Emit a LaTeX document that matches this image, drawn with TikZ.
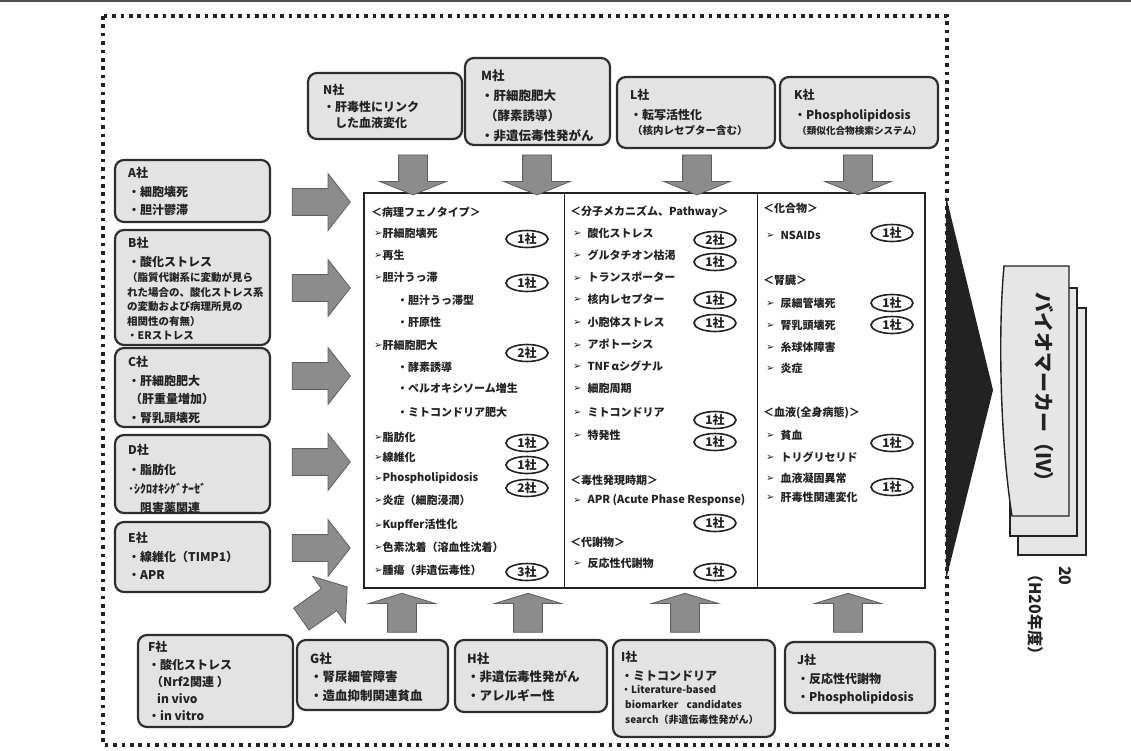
\documentclass[tikz,border=0pt]{standalone}
\usepackage{fontspec}
\setmainfont{Noto Sans CJK JP}
\newfontfamily\symf{DejaVu Sans}
\usetikzlibrary{shapes.arrows,shapes.geometric}
\definecolor{ink}{HTML}{222222}
\definecolor{boxline}{HTML}{2C302C}
\definecolor{boxfill}{HTML}{E3E3E3}
\definecolor{arrowfill}{HTML}{8C8C8C}
\definecolor{arrowline}{HTML}{5E5E5E}
\definecolor{sheetfill}{HTML}{E6E6E6}
\newcommand\bltm{{\symf\fontsize{10}{10}\selectfont\raisebox{0.3pt}{➢}}}
\begin{document}
\begin{tikzpicture}[x=1pt,y=-1pt,
  every node/.style={text=ink},
  cbox/.style={draw=boxline, line width=2.2pt, fill=boxfill, rounded corners=9pt, inner sep=0pt},
  btxt/.style={anchor=north west, align=left, inner sep=0pt, font=\fontsize{12}{18.5}\selectfont\bfseries},
  stxt/.style={anchor=north west, align=left, inner sep=0pt, font=\fontsize{10}{15}\selectfont\bfseries},
  item/.style={anchor=west, inner sep=0pt, font=\fontsize{11}{13}\selectfont\bfseries},
  badge/.style={ellipse, draw=ink, line width=1.6pt, fill=white, minimum width=42pt, minimum height=17pt, inner sep=0pt, font=\fontsize{12}{12}\selectfont\bfseries},
  blockarrow/.style={single arrow, draw=arrowline, fill=arrowfill, line width=0.8pt, inner sep=0pt},
  varrow/.style={blockarrow, single arrow head extend=19pt, minimum height=40pt, single arrow tip angle=136},
  harrow/.style={blockarrow, single arrow head extend=15pt, minimum height=58pt, single arrow tip angle=104},
  dotline/.style={draw=ink, line width=3.6pt, dash pattern=on 3.6pt off 4.8pt},
  sheet/.style={draw=ink, line width=1.4pt, fill=sheetfill}
]
\useasboundingbox (0,0) rectangle (1131,751);
\fill[white] (0,0) rectangle (1131,751);
\fill[ink!80] (0,0) rectangle (1131,2.5);

% dotted frame around the survey summary
\draw[dotline] (103,16) rectangle (947,745);

% central table
\node[draw=ink, line width=1.5pt, fill=white, inner sep=0pt, minimum width=561pt, minimum height=395pt] (core) at (644.5,390.5) {};
\coordinate (d1t) at (564,193); \coordinate (d1b) at (564,588);
\coordinate (d2t) at (757,193); \coordinate (d2b) at (757,588);
\draw[ink, line width=1pt] (d1t) -- (d1b);
\draw[ink, line width=1pt] (d2t) -- (d2b);

% column 1: pathology phenotypes
\node[item] (h1) at (371,212) {＜病理フェノタイプ＞};
\foreach \yy/\tx [count=\i] in {
  233/{\bltm 肝細胞壊死}, 255/{\bltm 再生}, 277/{\bltm 胆汁うっ滞},
  345/{\bltm 肝細胞肥大}, 437/{\bltm 脂肪化}, 457/{\bltm 線維化},
  478/{\bltm Phospholipidosis}, 500/{\bltm 炎症（細胞浸潤）},
  525/{\bltm Kupffer活性化}, 547/{\bltm 色素沈着（溶血性沈着）},
  570/{\bltm 腫瘍（非遺伝毒性）}}
  \node[item] (c1-\i) at (374,\yy) {\tx};
\foreach \yy/\tx [count=\i] in {
  300/{・胆汁うっ滞型}, 322/{・肝原性}, 367/{・酵素誘導},
  388/{・ペルオキシソーム増生}, 412/{・ミトコンドリア肥大}}
  \node[item] (s1-\i) at (397,\yy) {\tx};

% column 2: molecular mechanisms
\node[item] (h2) at (570,212) {＜分子メカニズム、Pathway＞};
\foreach \yy/\tx [count=\i] in {
  233/{酸化ストレス}, 255/{グルタチオン枯渇}, 277/{トランスポーター},
  299/{核内レセプター}, 322/{小胞体ストレス}, 344/{アポトーシス},
  366/{TNF\,αシグナル}, 388/{細胞周期}, 412/{ミトコンドリア},
  435/{特発性}, 500/{APR (Acute Phase Response)}, 563/{反応性代謝物}}
  \node[item] (c2-\i) at (573,\yy) {\bltm\hspace{6pt}\tx};
\node[item] (h3) at (570,480) {＜毒性発現時期＞};
\node[item] (h4) at (570,542) {＜代謝物＞};

% column 3: compounds, kidney, blood
\node[item] (h5) at (763,208) {＜化合物＞};
\node[item] (h6) at (763,280) {＜腎臓＞};
\node[item] (h7) at (763,413) {＜血液(全身病態)＞};
\foreach \yy/\tx [count=\i] in {
  235/{NSAIDs}, 303/{尿細管壊死}, 325/{腎乳頭壊死}, 347/{糸球体障害},
  368/{炎症}, 435/{貧血}, 457/{トリグリセリド}, 478/{血液凝固異常},
  497/{肝毒性関連変化}}
  \node[item] (c3-\i) at (766,\yy) {\bltm\hspace{6pt}\tx};

% company counts
\foreach \xx/\yy/\tx [count=\i] in {
  527/239/1社, 527/283/1社, 527/353/2社, 527/443/1社, 527/465/1社,
  527/488/2社, 527/572/3社,
  715/240/2社, 715/262/1社, 715/300/1社, 715/323/1社, 715/420/1社,
  715/442/1社, 715/523/1社, 715/572/1社,
  892/233/1社, 892/303/1社, 892/325/1社, 892/443/1社, 892/487/1社}
  \node[badge] (b\i) at (\xx,\yy) {\tx};

% companies on the left
\node[cbox, minimum width=155pt, minimum height=62pt] (A) at (192.5,191) {};
\node[btxt] (At) at (128,167.5) {A社\\・細胞壊死\\・胆汁鬱滞};
\node[cbox, minimum width=155pt, minimum height=115pt] (B) at (192.5,287.5) {};
\node[btxt, font=\fontsize{12}{19}\selectfont\bfseries] (Bt) at (128,237.5) {B社\\・酸化ストレス};
\node[stxt, font=\fontsize{10.5}{14.5}\selectfont\bfseries] (Bs) at (127,272.5) {（脂質代謝系に変動が見ら\\れた場合の、酸化ストレス系\\の変動および病理所見の\\相関性の有無）\\・ERストレス};
\node[cbox, minimum width=155pt, minimum height=79pt] (C) at (192.5,387.5) {};
\node[btxt] (Ct) at (128,356.5) {C社\\・肝細胞肥大\\\hspace{2pt}（肝重量増加）\\・腎乳頭壊死};
\node[cbox, minimum width=155pt, minimum height=78pt] (D) at (192.5,474) {};
\node[btxt, font=\fontsize{12}{19.3}\selectfont\bfseries] (Dt) at (128,444.5) {D社\\・脂肪化\\･ｼｸﾛｵｷｼｹﾞﾅｰｾﾞ\\\hspace{12pt}阻害薬関連};
\node[cbox, minimum width=155pt, minimum height=70pt] (E) at (192.5,557) {};
\node[btxt] (Et) at (128,532.5) {E社\\・線維化（TIMP1）\\・APR};

% companies on top
\node[cbox, minimum width=154pt, minimum height=66pt] (N) at (385,106) {};
\node[btxt, font=\fontsize{12}{16.5}\selectfont\bfseries] (Nt) at (323,84.5) {N社\\・肝毒性にリンク\\\hspace{12pt}した血液変化};
\node[cbox, minimum width=145pt, minimum height=87pt] (M) at (537.5,101.5) {};
\node[btxt, font=\fontsize{12.5}{20}\selectfont\bfseries] (Mt) at (481,69.5) {M社\\・肝細胞肥大\\\hspace{4pt}（酵素誘導）\\・非遺伝毒性発がん};
\node[cbox, minimum width=158pt, minimum height=71pt] (L) at (696,112.5) {};
\node[btxt, font=\fontsize{12}{20}\selectfont\bfseries] (Lt) at (630,89.5) {L社\\・転写活性化};
\node[stxt, font=\fontsize{10.5}{12}\selectfont\bfseries] (Ls) at (632,125) {（核内レセプター含む）};
\node[cbox, minimum width=158pt, minimum height=71pt] (K) at (859,112.5) {};
\node[btxt, font=\fontsize{12}{20}\selectfont\bfseries] (Kt) at (794,89.5) {K社\\・Phospholipidosis};
\node[stxt, font=\fontsize{9.6}{12}\selectfont\bfseries] (Ks) at (797,126.5) {（類似化合物検索システム）};

% companies at the bottom
\node[cbox, minimum width=155pt, minimum height=92pt] (F) at (215.5,681) {};
\node[btxt, font=\fontsize{12}{17.2}\selectfont\bfseries] (Ft) at (148,641.5) {F社\\・酸化ストレス\\\hspace{3pt}（Nrf2関連 ）\\\hspace{9pt}in vivo\\・in vitro};
\node[cbox, minimum width=151pt, minimum height=70pt] (G) at (372.5,675) {};
\node[btxt, font=\fontsize{12.5}{18.5}\selectfont\bfseries] (Gt) at (310,652.5) {G社\\・腎尿細管障害\\・造血抑制関連貧血};
\node[cbox, minimum width=152pt, minimum height=72pt] (H) at (531,676) {};
\node[btxt, font=\fontsize{12.5}{18.5}\selectfont\bfseries] (Ht) at (467,652.5) {H社\\・非遺伝毒性発がん\\・アレルギー性};
\node[cbox, minimum width=162pt, minimum height=97pt] (I) at (694,688.5) {};
\node[btxt] (It) at (621,651.5) {I社\\・ミトコンドリア};
\node[stxt] (Is) at (621,685) {・Literature-based\\\hspace{4pt}biomarker\hspace{8pt}candidates\\\hspace{4pt}search（非遺伝毒性発がん）};
\node[cbox, minimum width=150pt, minimum height=71pt] (J) at (860,677.5) {};
\node[btxt] (Jt) at (797,654.5) {J社\\・反応性代謝物\\・Phospholipidosis};

% block arrows into the table
\foreach \nm/\yy in {aA/202, aB/288, aC/376, aD/462, aE/548}
  \node[harrow] (\nm) at (316,\yy) {\rule{0pt}{26pt}};
\node[harrow, rotate=35, minimum height=56pt] (aF) at (320,606) {\rule{0pt}{26pt}};
\foreach \nm/\xx in {aN/413, aM/537, aL/697, aK/858}
  \node[varrow, rotate=-90] (\nm) at (\xx,172) {\rule{0pt}{28pt}};
\foreach \nm/\xx in {aG/402, aH/528, aI/685, aJ/848}
  \node[varrow, rotate=90, minimum height=39pt, single arrow tip angle=146] (\nm) at (\xx,615) {\rule{0pt}{28pt}};

% output: biomarker stack
\fill[ink] (946,196) -- (993,390) -- (946,580) -- cycle;
\filldraw[sheet] (1018,308) rectangle (1086,555);
\filldraw[sheet] (1010,288) rectangle (1077,536);
\filldraw[sheet] (1004,266) -- (1069,266) -- (1069,516) -- (1012,516)
  .. controls (1000,440) and (998,330) .. (1004,266) -- cycle;
\node[rotate=-90, font=\fontsize{20}{21}\selectfont\bfseries] (bm) at (1044,392) {バイオマーカー（IV）};
\node[rotate=-90, anchor=north west, align=left, inner sep=0pt, font=\fontsize{16}{30}\selectfont\bfseries] (yr) at (1072,566) {20\\（H20年度）};
\end{tikzpicture}
\end{document}
